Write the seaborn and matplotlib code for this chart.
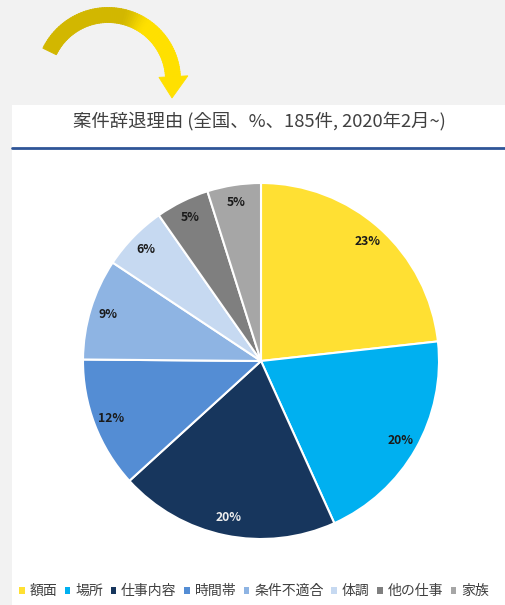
import numpy as np
import matplotlib
matplotlib.use("Agg")
import matplotlib.pyplot as plt
import seaborn as sns
from matplotlib.patches import Rectangle, Polygon, Patch
from matplotlib.lines import Line2D

# ---- data ----
categories = ["額面", "場所", "仕事内容", "時間帯", "条件不適合", "体調", "他の仕事", "家族"]
counts = [43, 37, 37, 22, 17, 11, 9, 9]  # 185件
colors = ["#FFE033", "#00B0F0", "#17365D", "#548DD4", "#8EB4E3", "#C6D9F1", "#7F7F7F", "#A6A6A6"]
label_colors = ["#1a1a1a", "#1a1a1a", "#EDEDED", "#1a1a1a", "#1a1a1a", "#1a1a1a", "#1a1a1a", "#1a1a1a"]
title = "案件辞退理由 (全国、%、185件, 2020年2月~)"

sns.set_theme(style="white")
plt.rcParams['font.family'] = ['Noto Sans CJK JP', 'DejaVu Sans']

W, H = 506, 605
fig = plt.figure(figsize=(W / 100, H / 100), dpi=100, facecolor="#F2F2F2")

# white panel
fig.patches.append(Rectangle((12 / W, 0), 1 - 12 / W, 1 - 105 / H, transform=fig.transFigure,
                             facecolor="white", edgecolor="none", zorder=-5))
# blue rule under title
fig.add_artist(Line2D([12 / W, 1], [1 - 148 / H, 1 - 148 / H], transform=fig.transFigure,
                      color="#2F5597", linewidth=2.0, zorder=-4))
fig.text(259 / W, 1 - 121 / H, title, ha="center", va="center", fontsize=13.2, color="#404040")

# decorative curved arrow (pixel overlay)
ov = fig.add_axes([0, 0, 1, 1], facecolor="none")
ov.set_xlim(0, W)
ov.set_ylim(0, H)
ov.axis("off")
cx, cy = 108, 525
r_in, r_out = 57.5, 72.5
angles = np.linspace(154, 3, 80)
c1 = np.array(matplotlib.colors.to_rgb("#D2B700"))
c2 = np.array(matplotlib.colors.to_rgb("#FFE000"))
for a0, a1 in zip(angles[:-1], angles[1:]):
    am = (a0 + a1) / 2
    t = np.clip((78 - am) / 25, 0, 1)
    t = t * t * (3 - 2 * t)
    col = c1 * (1 - t) + c2 * t
    th = np.radians([a0, a1 - 0.3])
    pts = [(cx + r_in * np.cos(th[0]), cy + r_in * np.sin(th[0])),
           (cx + r_out * np.cos(th[0]), cy + r_out * np.sin(th[0])),
           (cx + r_out * np.cos(th[1]), cy + r_out * np.sin(th[1])),
           (cx + r_in * np.cos(th[1]), cy + r_in * np.sin(th[1]))]
    ov.add_patch(Polygon(pts, closed=True, facecolor=col, edgecolor=col, linewidth=0.6))
thb = np.radians(3)
hb1 = (cx + 51 * np.cos(thb), cy + 51 * np.sin(thb))
hb2 = (cx + 80 * np.cos(thb), cy + 80 * np.sin(thb))
tip = (172, H - 98)
ov.add_patch(Polygon([hb1, hb2, tip], closed=True, facecolor=c2, edgecolor=c2, linewidth=0.6))

# pie
R = 178
pcx, pcy = 261, 361
ax = fig.add_axes([(pcx - R) / W, (H - pcy - R) / H, 2 * R / W, 2 * R / H])
pal = sns.color_palette(colors)
wedges, texts, autotexts = ax.pie(
    counts, colors=pal, startangle=90, counterclock=False,
    autopct=lambda p: f"{p:.0f}%", pctdistance=0.9,
    wedgeprops=dict(edgecolor="white", linewidth=1.5),
    textprops=dict(fontsize=8.8, fontweight="bold"))
for t, c in zip(autotexts, label_colors):
    t.set_color(c)
ax.set_xlim(-1.0, 1.0)
ax.set_ylim(-1.0, 1.0)
ax.set_aspect("equal")
ax.axis("off")

# legend
handles = [Patch(facecolor=c, edgecolor="none") for c in colors]
fig.legend(handles, categories, loc="center left", bbox_to_anchor=(19 / W, 1 - 591 / H),
           ncol=len(categories), frameon=False, fontsize=10, handlelength=0.4, handleheight=0.4,
           handletextpad=0.35, columnspacing=0.55, borderaxespad=0, borderpad=0,
           labelcolor="#404040")

fig.savefig("out.png", dpi=100, facecolor=fig.get_facecolor())
